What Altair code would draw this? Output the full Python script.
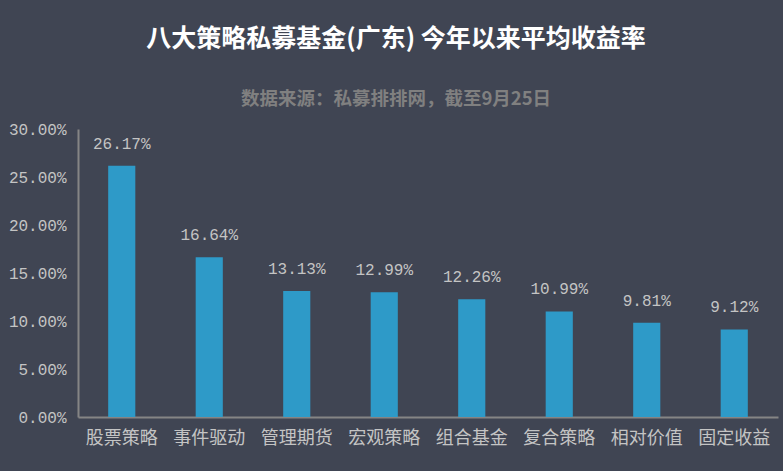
import altair as alt
import pandas as pd

categories = ["股票策略", "事件驱动", "管理期货", "宏观策略", "组合基金", "复合策略", "相对价值", "固定收益"]
values = [0.2617, 0.1664, 0.1313, 0.1299, 0.1226, 0.1099, 0.0981, 0.0912]

df = pd.DataFrame({"cat": categories, "val": values})

BG = "#404553"
BAR = "#2e9ac8"
LBL = "#c4c4c4"

base = alt.Chart(df).encode(
    x=alt.X("cat:N", sort=categories, title=None,
            scale=alt.Scale(paddingInner=0.69, paddingOuter=0.345),
            axis=alt.Axis(labelAngle=0, labelFont="Noto Sans CJK SC", labelFontSize=18,
                          labelColor=LBL, labelPadding=12, ticks=False,
                          domainColor="#858585", domainWidth=2)),
    y=alt.Y("val:Q", title=None,
            scale=alt.Scale(domain=[0, 0.30], nice=False),
            axis=alt.Axis(format=".2%", values=[0, 0.05, 0.10, 0.15, 0.20, 0.25, 0.30],
                          labelFont="Liberation Mono", labelFontSize=16, labelColor=LBL,
                          labelPadding=12, ticks=False, grid=False,
                          domainColor="#858585", domainWidth=2)),
)

bars = base.mark_bar(color=BAR)
text = base.mark_text(dy=-22, font="Liberation Mono", fontSize=16, color=LBL, baseline="middle").encode(
    text=alt.Text("val:Q", format=".2%"))

chart = (bars + text).properties(
    width=700,
    height=288,
    background=BG,
    padding={"left": 78, "top": 129, "right": 5, "bottom": 54},
    autosize=alt.AutoSizeParams(type="none"),
    title=alt.TitleParams(
        text="八大策略私募基金(广东) 今年以来平均收益率",
        subtitle="数据来源：私募排排网，截至9月25日",
        font="Noto Sans CJK SC", fontSize=25, fontWeight="bold", color="#ffffff",
        subtitleFont="Noto Sans CJK SC", subtitleFontSize=18.5, subtitleFontWeight="bold",
        subtitleColor="#808080", subtitlePadding=38,
        anchor="middle", frame="group", offset=13, dx=-32,
    ),
).configure_view(stroke=None)

chart.save("out.html", embed_options={"renderer": "svg", "actions": False})
